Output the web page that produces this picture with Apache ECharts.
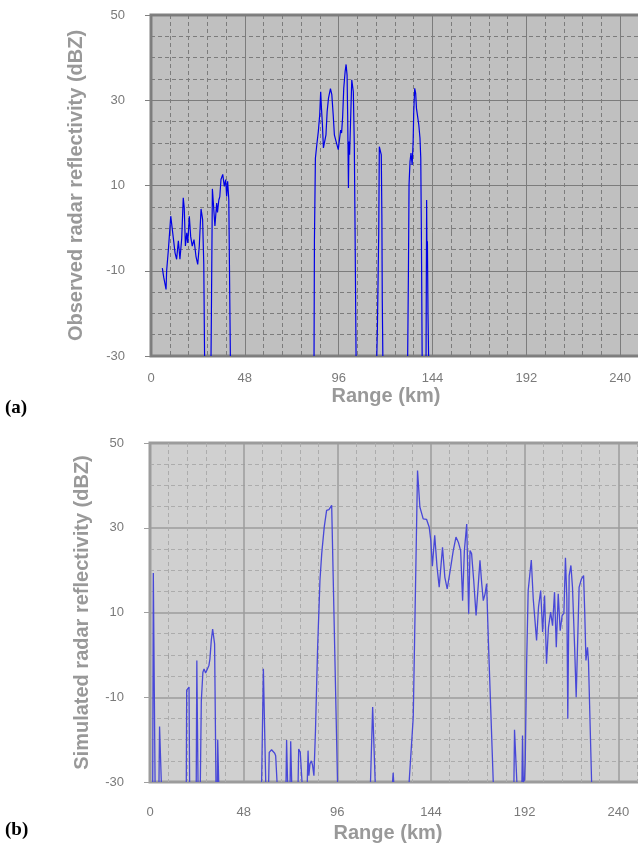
<!DOCTYPE html>
<html><head><meta charset="utf-8">
<script src="https://cdn.jsdelivr.net/npm/echarts@6/dist/echarts.min.js"></script>
<style>html,body{margin:0;padding:0;background:#fff}#c{width:638px;height:854px}</style>
</head><body><div id="c"></div>
<script>
// ---- tick labels ----
const xTicks = [0, 48, 96, 144, 192, 240];
const yTicks = [-30, -10, 10, 30, 50];

// ---- (a) Observed radar reflectivity: range (km) / dBZ, null = no echo gap ----
const obsRange = [
  5.8, 6.5, 7.7, 8.0, 8.9, 10.1, 10.9, 12.3, 13.1, 14.0, 14.8, 15.7, 16.5, 17.0, 17.6, 18.3, 18.8, 19.6, 20.3, 21.1, 22.0, 23.0, 23.9, 24.7, 25.6, 26.4, 27.0, 27.4, 29.0,
  30.7, 30.9, 31.4, 31.9, 32.7, 33.6, 34.0, 34.7, 35.2, 35.8, 36.7, 37.5, 38.2, 38.7, 39.2, 39.8, 40.3, 40.6, 60.0,
  83.4, 83.6, 84.1, 84.8, 85.6, 86.3, 86.8, 87.2, 87.7, 88.2, 89.0, 89.5, 90.1, 90.8, 91.8, 92.5, 93.2, 93.8, 94.7, 95.8, 96.5, 97.0, 97.5, 98.0, 98.6, 99.3, 99.8, 100.3, 100.6, 101.0, 101.3, 101.6, 102.7, 103.5, 104.0, 104.4, 104.9, 110.0,
  115.5, 115.8, 116.5, 116.8, 117.3, 117.8, 118.1, 118.3, 118.6, 125.0,
  131.3, 131.7, 132.0, 132.5, 133.0, 133.6, 134.1, 134.4, 134.9, 135.4, 135.8, 136.5, 137.0, 137.6, 138.0, 138.3, 138.7, 139.7,
  140.7, 141.0, 141.2, 141.4, 141.7, 142.0
];
const obsDbz = [
  -9.4, -11.5, -14.4, -10, -5, 2.8, -0.3, -5.8, -7.3, -3, -7.3, -2.5, 7.1, 4.8, -4.2, -1.1, -3.5, 2.8, -2, -4.2, -2.7, -6.6, -8.5, -4.2, 4.5, 2, -8.5, -30, null,
  -30, -19.8, 9.2, 9, 0.5, 5.9, 3.7, 6.6, 7.4, 11.4, 12.6, 9.8, 11.4, 7.4, 11, 6.7, -16.7, -30, null,
  -30, -3.1, 16.4, 19.5, 22.7, 26.6, 32, 28.1, 24.2, 18.8, 18.4, 21.9, 27.3, 30.5, 32.7, 31.3, 26.6, 21.9, 20.3, 18.4, 21.1, 23, 22.3, 25.8, 32.8, 36.7, 38.4, 35.9, 26.6, 9.4, 20.3, 17.2, 34.8, 32, 19.5, -1.2, -30, null,
  -30, -23.8, -0.8, 19.1, 18.8, 17.2, 3.1, -16.4, -30, null,
  -30, -9.4, 10.2, 15.6, 17.6, 14.8, 20.3, 27.3, 32.8, 31.6, 28.1, 28.5, 24.2, 21.1, 16.4, -0.4, -30, null,
  -30, 6.6, -7.8, -3.1, -20.3, -30
];

// ---- (b) Simulated radar reflectivity ----
const simRange = [
  1.4, 1.7, 2.6, 3.5,
  4.6, 4.9, 5.8, 10.0,
  18.6, 18.8, 20.0, 20.3, 22.0,
  23.7, 24.0, 24.6, 25.2,
  25.8, 26.3, 27.1, 27.7, 28.5, 29.4, 30.2, 30.7, 31.4, 32.1, 32.8, 33.1, 33.8, 34.1,
  34.5, 34.7, 35.2, 45.0,
  57.2, 58.1, 59.3, 60.0,
  60.8, 61.1, 62.3, 63.2, 63.9, 64.4, 65.1, 67.0,
  69.7, 70.0, 70.5, 71.0,
  71.8, 72.1, 72.6, 74.0,
  75.9, 76.2, 77.0, 77.6, 77.9, 79.0,
  80.6, 81.0, 81.4, 82.0, 82.7, 83.3, 84.0, 84.8, 85.9, 87.1, 88.0, 89.3, 90.5, 91.7, 92.6, 93.1, 96.1, 105.0,
  113.0, 114.1, 115.4, 120.0,
  124.3, 124.6, 124.9, 128.0,
  132.8, 134.9, 137.1, 138.3, 140.0, 141.7, 143.1, 143.9, 144.7, 145.9, 147.1, 148.2, 149.9, 151.1, 152.3, 153.7, 154.5, 155.4, 156.8, 158.0, 159.2, 160.2, 161.1, 162.3, 163.3, 164.0, 164.8, 165.9, 167.1, 167.9, 169.1, 170.0, 170.8, 171.7, 172.5, 173.4, 175.9, 181.0,
  186.5, 186.8, 188.0, 189.0,
  190.6, 190.9, 191.3, 191.9, 192.3, 193.0, 193.8, 195.4, 196.4, 197.3, 198.1, 199.1, 200.2, 201.2, 202.2, 203.2, 204.2, 205.3, 206.3, 207.3, 208.2, 209.2, 210.2, 211.2, 212.1, 212.9, 213.6, 214.1, 214.8, 215.7, 216.5, 217.6, 218.4, 219.3, 219.9, 221.1, 222.2, 222.8, 223.4, 224.2, 224.7, 226.3
];
const simDbz = [
  -30, 19.3, -30, null,
  -30, -16.9, -30, null,
  -30, -8.3, -7.6, -30, null,
  -30, -1.3, -30, null,
  -30, -10.8, -4.1, -3.3, -4.3, -4.1, -2.5, -1, 3.4, 6.1, 6.1, 2.6, -30, null,
  -30, -20, -30, null,
  -30, -3.3, -30, null,
  -30, -23, -22.4, -22.2, -23.2, -23.8, -30, null,
  -30, -20.1, -30, null,
  -30, -20.4, -30, null,
  -30, -22.2, -23, -23.4, -30, null,
  -30, -22.6, -28.5, -25.7, -25, -26, -28.5, -17.9, 1.8, 17.6, 23.9, 30.2, 34.1, 34.3, 34.6, 35.3, -30, null,
  -30, -12.3, -30, null,
  -30, -27.8, -30, null,
  -30, -14.7, 43.5, 34.9, 32.1, 32, 30.1, 27, 20.9, 28.2, 20.7, 16, 25.4, 18.3, 15.6, 19.5, 21.9, 24.6, 27.8, 26.6, 24.6, 12.8, 24.6, 30.9, 9.7, 24.6, 23.9, 17.5, 9.3, 14.4, 22.3, 16.8, 12.8, 14.4, 16.8, 3.4, -30, null,
  -30, -17.7, -30, null,
  -30, -19, -30, -29.5, -25, -2.1, 15.2, 22.4, 13.2, 12.8, 3.4, 11.3, 15.2, 5.4, 14, -2.1, 6.5, 10.1, 6.9, 14.8, 1.8, 14.4, 5.7, 9.3, 9.8, 22.9, 13.5, -15.1, 18.7, 21.1, 16, 1.8, -10, 5.7, 16, 17.9, 18.7, 9.7, -1.3, 1.8, -1.5, -30
];

const xMax = 288; // axis continues beyond the picture's right edge
const FONT_N = "'Liberation Sans Narrow','Arial Narrow','Liberation Sans',sans-serif";
const FONT_B = "'Liberation Sans',Arial,sans-serif";

const sty = [
  {bg:'#c0c0c0', border:'#808080', bw:3, major:'#7c7c7c', mw:1, minor:'#7c7c7c', tick:'#808080', label:'#7a7a7a', title:'#999999', line:'#0000e6', lw:1.2, xm:16},
  {bg:'#d0d0d0', border:'#9c9c9c', bw:3, major:'#9c9c9c', mw:1.5, minor:'#acacac', tick:'#a0a0a0', label:'#7a7a7a', title:'#999999', line:'#4848d8', lw:1.3, xm:24}
];
const yNames = ['Observed radar reflectivity (dBZ)', 'Simulated radar reflectivity (dBZ)'];
const grids = [
  {left:151, top:15, width:563, height:341},
  {left:150, top:443, width:562, height:339}
];
const nameGaps = [65, 58];

function xAx(i){
  const c = sty[i];
  return {type:'value', gridIndex:i, min:xTicks[0], max:xMax, interval:xTicks[1]-xTicks[0],
    axisLine:{show:false},
    axisTick:{show:true, length:5, lineStyle:{color:c.tick}},
    minorTick:{show:true, splitNumber:5, length:4, lineStyle:{color:c.tick}},
    axisLabel:{color:c.label, fontFamily:FONT_N, fontSize:13, margin:c.xm},
    splitLine:{show:true, lineStyle:{color:c.major, width:c.mw}},
    minorSplitLine:{show:true, lineStyle:{color:c.minor, width:1, type:[4,3]}}
  };
}
function yAx(i){
  const c = sty[i];
  return {type:'value', gridIndex:i, min:yTicks[0], max:yTicks[yTicks.length-1], interval:yTicks[1]-yTicks[0],
    axisLine:{show:false},
    axisTick:{show:true, length:6, lineStyle:{color:c.tick}},
    minorTick:{show:false, splitNumber:4},
    axisLabel:{color:c.label, fontFamily:FONT_N, fontSize:13, margin:26},
    splitLine:{show:true, lineStyle:{color:c.major, width:c.mw}},
    minorSplitLine:{show:true, lineStyle:{color:c.minor, width:1, type:[4,3]}},
    name:yNames[i], nameLocation:'middle', nameGap:nameGaps[i],
    nameTextStyle:{color:c.title, fontFamily:FONT_B, fontWeight:'bold', fontSize:20}
  };
}
function pairs(xs, ys){ return xs.map((x,k)=>[x, ys[k]]); }

const chart = echarts.init(document.getElementById('c'), null, {renderer:'canvas'});
chart.setOption({
  animation:false,
  backgroundColor:'#ffffff',
  grid: grids.map((g,i)=>Object.assign({show:true, outerBoundsMode:'none', containLabel:false, backgroundColor:sty[i].bg, borderColor:sty[i].border, borderWidth:sty[i].bw}, g)),
  xAxis:[xAx(0), xAx(1)],
  yAxis:[yAx(0), yAx(1)],
  series:[
    {type:'line', xAxisIndex:0, yAxisIndex:0, data:pairs(obsRange, obsDbz), showSymbol:false, connectNulls:false,
     lineStyle:{color:sty[0].line, width:sty[0].lw}, itemStyle:{color:sty[0].line}, z:5},
    {type:'line', xAxisIndex:1, yAxisIndex:1, data:pairs(simRange, simDbz), showSymbol:false, connectNulls:false,
     lineStyle:{color:sty[1].line, width:sty[1].lw}, itemStyle:{color:sty[1].line}, z:5}
  ],
  graphic:[
    {type:'text', x:386, y:396, style:{text:'Range (km)', align:'center', verticalAlign:'middle', fill:'#999999', font:"bold 20px 'Liberation Sans',Arial,sans-serif"}},
    {type:'text', x:388, y:833, style:{text:'Range (km)', align:'center', verticalAlign:'middle', fill:'#999999', font:"bold 20px 'Liberation Sans',Arial,sans-serif"}},
    {type:'text', x:5, y:408, style:{text:'(a)', verticalAlign:'middle', fill:'#000000', font:"bold 19px 'Liberation Serif','Times New Roman',serif"}},
    {type:'text', x:5, y:830, style:{text:'(b)', verticalAlign:'middle', fill:'#000000', font:"bold 19px 'Liberation Serif','Times New Roman',serif"}}
  ]
});
</script>
</body></html>
